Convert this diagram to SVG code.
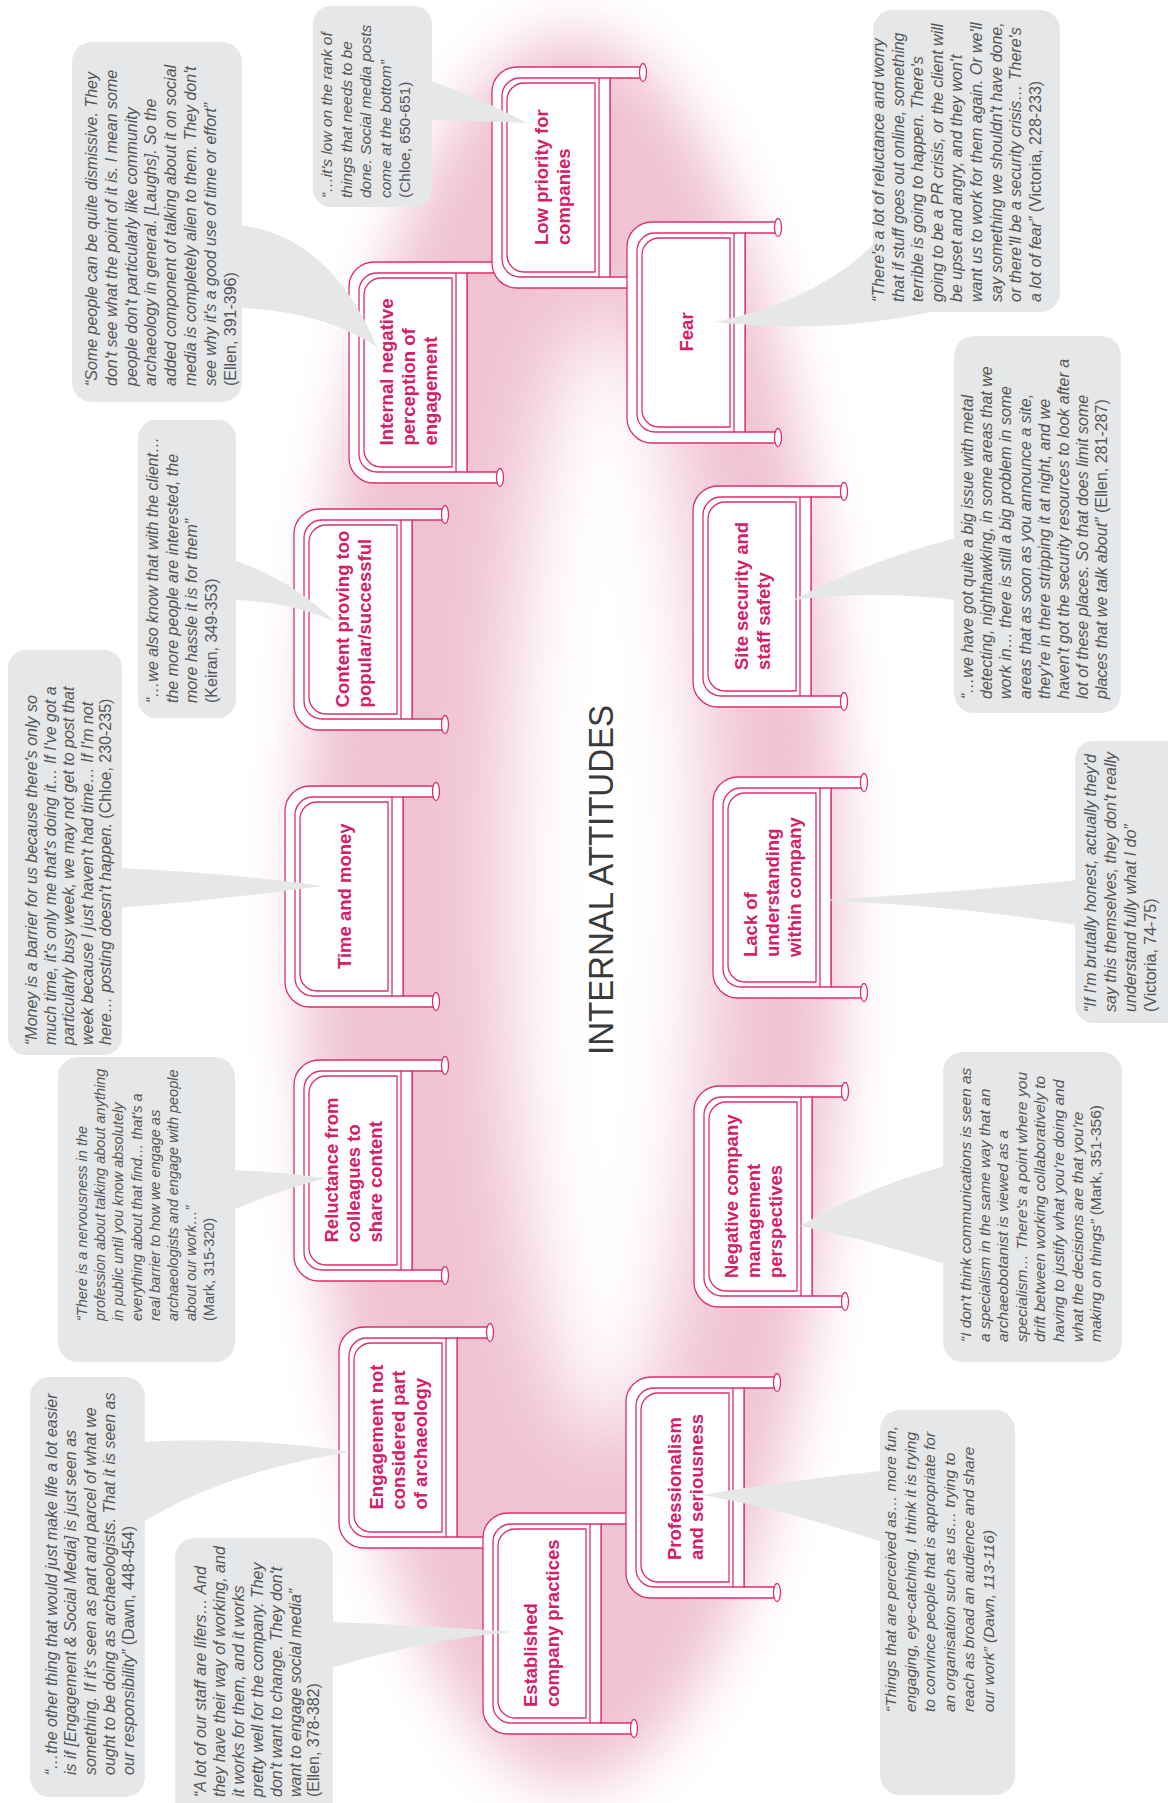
<svg xmlns="http://www.w3.org/2000/svg" xmlns:xlink="http://www.w3.org/1999/xlink" width="1168" height="1803" viewBox="0 0 1168 1803">
  <style>
    .tube { fill: #ffffff; stroke: #dd2e6e; stroke-width: 1.3; stroke-linejoin: round; }
    .line { fill: none; stroke: #dd2e6e; stroke-width: 1.3; }
    .label { font-family: "Liberation Sans", Arial, sans-serif; font-weight: bold; font-size: 18.5px; fill: #d42068; }
    .bubble { fill: #e6e7e8; }
    .q { font-family: "Liberation Sans", Arial, sans-serif; font-style: italic; fill: #555658; }
    .c { font-style: normal; }
    .title { font-family: "Liberation Sans", Arial, sans-serif; font-size: 35px; fill: #3a3a3a; }
  </style>
  <defs>
    <filter id="soft" x="-40%" y="-15%" width="180%" height="130%">
      <feGaussianBlur stdDeviation="28"/>
    </filter>
    <filter id="softer" x="-60%" y="-20%" width="220%" height="140%">
      <feGaussianBlur stdDeviation="38"/>
    </filter>
    <!-- signboard: U-shaped tube, inner rail, bar and board; local origin at outer top-left -->
    <g id="sign">
      <path class="tube" d="M151,0 H25 A25,25 0 0 0 0,25 V196 A25,25 0 0 0 25,221 H151 V210 H118 V11 H151 Z"/>
      <path class="line" d="M107,11 H28 A18,18 0 0 0 10,29 V192 A18,18 0 0 0 28,210 H107"/>
      <rect class="tube" x="107" y="11" width="11" height="199"/>
      <path class="tube" d="M103,16 H32 A17,17 0 0 0 15,33 V188 A17,17 0 0 0 32,205 H103 Z"/>
      <ellipse class="tube" cx="151" cy="5.5" rx="3.5" ry="9"/>
      <ellipse class="tube" cx="151" cy="215.5" rx="3.5" ry="9"/>
    </g>
  </defs>

  <rect width="1168" height="1803" fill="#ffffff"/>

  <!-- soft pink ring behind the signs -->
  <g id="backdrop">
    <ellipse cx="572" cy="910" rx="270" ry="875" fill="#f0c3d4" filter="url(#soft)"/>
    <ellipse cx="606" cy="878" rx="100" ry="560" fill="#ffffff" filter="url(#softer)"/>
  </g>

  <!-- signs -->
  <g id="nodes">
    <g id="node-internal-negative" transform="translate(349,262)">
      <use xlink:href="#sign"/>
      <text class="label" transform="translate(44,183.5) rotate(-90)"><tspan x="0" y="0">Internal negative</tspan><tspan x="0" dy="22">perception of</tspan><tspan x="0" dy="22">engagement</tspan></text>
    </g>
    <g id="node-low-priority" transform="translate(492,67)">
      <use xlink:href="#sign"/>
      <text class="label" transform="translate(56,178) rotate(-90)"><tspan x="0" y="0">Low priority for</tspan><tspan x="0" dy="22">companies</tspan></text>
    </g>
    <g id="node-fear" transform="translate(627,222)">
      <use xlink:href="#sign"/>
      <text class="label" transform="translate(66,129.5) rotate(-90)"><tspan x="0" y="0">Fear</tspan></text>
    </g>
    <g id="node-site-security" transform="translate(693,486)">
      <use xlink:href="#sign"/>
      <text class="label" transform="translate(55,184) rotate(-90)"><tspan x="0" y="0">Site security and</tspan><tspan x="0" dy="22">staff safety</tspan></text>
    </g>
    <g id="node-lack-understanding" transform="translate(713,777)">
      <use xlink:href="#sign"/>
      <text class="label" transform="translate(44,180) rotate(-90)"><tspan x="0" y="0">Lack of</tspan><tspan x="0" dy="22">understanding</tspan><tspan x="0" dy="22">within company</tspan></text>
    </g>
    <g id="node-negative-management" transform="translate(694,1086)">
      <use xlink:href="#sign"/>
      <text class="label" transform="translate(44,192) rotate(-90)"><tspan x="0" y="0">Negative company</tspan><tspan x="0" dy="22">management</tspan><tspan x="0" dy="22">perspectives</tspan></text>
    </g>
    <g id="node-engagement-not-part" transform="translate(339,1327)">
      <use xlink:href="#sign"/>
      <text class="label" transform="translate(44,182.5) rotate(-90)"><tspan x="0" y="0">Engagement not</tspan><tspan x="0" dy="22">considered part</tspan><tspan x="0" dy="22">of archaeology</tspan></text>
    </g>
    <g id="node-established-practices" transform="translate(483,1513)">
      <use xlink:href="#sign"/>
      <text class="label" transform="translate(54,194) rotate(-90)"><tspan x="0" y="0">Established</tspan><tspan x="0" dy="22">company practices</tspan></text>
    </g>
    <g id="node-professionalism" transform="translate(626,1377)">
      <use xlink:href="#sign"/>
      <text class="label" transform="translate(55,183) rotate(-90)"><tspan x="0" y="0">Professionalism</tspan><tspan x="0" dy="22">and seriousness</tspan></text>
    </g>
    <g id="node-reluctance" transform="translate(294,1060)">
      <use xlink:href="#sign"/>
      <text class="label" transform="translate(44,182.5) rotate(-90)"><tspan x="0" y="0">Reluctance from</tspan><tspan x="0" dy="22">colleagues to</tspan><tspan x="0" dy="22">share content</tspan></text>
    </g>
    <g id="node-time-money" transform="translate(285,786)">
      <use xlink:href="#sign"/>
      <text class="label" transform="translate(66,183) rotate(-90)"><tspan x="0" y="0">Time and money</tspan></text>
    </g>
    <g id="node-content-popular" transform="translate(294,509)">
      <use xlink:href="#sign"/>
      <text class="label" transform="translate(55,198.4) rotate(-90)"><tspan x="0" y="0">Content proving too</tspan><tspan x="0" dy="22">popular/successful</tspan></text>
    </g>
  </g>

  <!-- callout pointers from each quote to its sign -->
  <g id="connectors" class="bubble">
    <path d="M428,80 Q480,98 527,123 Q480,121 428,120 Z"/>
    <path d="M238,225 Q330,235 377,347 Q320,310 238,308 Z"/>
    <path d="M234,560 Q292,580 335,622 Q292,602 234,600 Z"/>
    <path d="M118,868 Q220,872 323,886 Q220,900 118,908 Z"/>
    <path d="M233,1170 Q280,1172 326,1178 Q280,1190 233,1210 Z"/>
    <path d="M143,1442 Q250,1436 350,1452 Q230,1470 143,1522 Z"/>
    <path d="M331,1622 Q420,1625 512,1632 Q420,1640 331,1668 Z"/>
    <path d="M890,1470 Q790,1480 702,1495 Q790,1510 890,1545 Z"/>
    <path d="M945,1166 Q860,1190 800,1226 Q870,1240 945,1264 Z"/>
    <path d="M1077,880 Q950,893 820,900 Q950,905 1077,925 Z"/>
    <path d="M956,538 Q870,560 793,600 Q870,590 956,600 Z"/>
    <path d="M878,240 Q820,300 715,322 Q830,335 940,310 Z"/>
  </g>

  <!-- quotes -->
  <g id="quote-chloe-650">
    <rect class="bubble" x="313" y="6" width="119" height="201" rx="18"/>
    <text class="q" font-size="15.5" transform="translate(332,198) rotate(-90)"><tspan x="0" y="0">“…it's low on the rank of</tspan><tspan x="0" dy="19.5">things that needs to be</tspan><tspan x="0" dy="19.5">done. Social media posts</tspan><tspan x="0" dy="19.5">come at the bottom”</tspan><tspan class="c" x="0" dy="19.5">(Chloe, 650-651)</tspan></text>
  </g>
  <g id="quote-ellen-391">
    <rect class="bubble" x="72" y="42" width="170" height="360" rx="20"/>
    <text class="q" font-size="16" transform="translate(97,386) rotate(-90)"><tspan x="0" y="0">“Some people can be quite dismissive.  They</tspan><tspan x="0" dy="19.8">don't see what the point of it is. I mean some</tspan><tspan x="0" dy="19.8">people don't particularly like community</tspan><tspan x="0" dy="19.8">archaeology in general. [Laughs]. So the</tspan><tspan x="0" dy="19.8">added component of talking about it on social</tspan><tspan x="0" dy="19.8">media is completely alien to them.  They don't</tspan><tspan x="0" dy="19.8">see why it's a good use of time or effort”</tspan><tspan class="c" x="0" dy="19.8">(Ellen, 391-396)</tspan></text>
  </g>
  <g id="quote-keiran-349">
    <rect class="bubble" x="138" y="420" width="98" height="298" rx="18"/>
    <text class="q" font-size="16" transform="translate(158,703) rotate(-90)"><tspan x="0" y="0">“…we also know that with the client…</tspan><tspan x="0" dy="19.5">the more people are interested, the</tspan><tspan x="0" dy="19.5">more hassle it is for them”</tspan><tspan class="c" x="0" dy="19.5">(Keiran, 349-353)</tspan></text>
  </g>
  <g id="quote-chloe-230">
    <rect class="bubble" x="8" y="650" width="114" height="405" rx="18"/>
    <text class="q" font-size="16" transform="translate(37,1045) rotate(-90)"><tspan x="0" y="0">“Money is a barrier for us because there's only so</tspan><tspan x="0" dy="18.5">much time, it's only me that's doing it… If I've got a</tspan><tspan x="0" dy="18.5">particularly busy week, we may not get to post that</tspan><tspan x="0" dy="18.5">week because I just haven't had time…  If I'm not</tspan><tspan x="0" dy="18.5">here… posting doesn't happen. <tspan class="c">(Chloe, 230-235)</tspan></tspan></text>
  </g>
  <g id="quote-mark-315">
    <rect class="bubble" x="58" y="1057" width="177" height="305" rx="20"/>
    <text class="q" font-size="14.5" transform="translate(87,1321) rotate(-90)"><tspan x="0" y="0">“There is a nervousness in the</tspan><tspan x="0" dy="18.2">profession about talking about anything</tspan><tspan x="0" dy="18.2">in public until you know absolutely</tspan><tspan x="0" dy="18.2">everything about that find… that's a</tspan><tspan x="0" dy="18.2">real barrier to how we engage as</tspan><tspan x="0" dy="18.2">archaeologists and engage with people</tspan><tspan x="0" dy="18.2">about our work…”</tspan><tspan class="c" x="0" dy="18.2">(Mark, 315-320)</tspan></text>
  </g>
  <g id="quote-dawn-448">
    <rect class="bubble" x="30" y="1377" width="115" height="420" rx="20"/>
    <text class="q" font-size="16" transform="translate(57,1775) rotate(-90)"><tspan x="0" y="0">“…the other thing that would just make life a lot easier</tspan><tspan x="0" dy="19.3">is if [Engagement &amp; Social Media] is just seen as</tspan><tspan x="0" dy="19.3">something. If it's seen as part and parcel of what we</tspan><tspan x="0" dy="19.3">ought to be doing as archaeologists.  That it is seen as</tspan><tspan x="0" dy="19.3">our responsibility” <tspan class="c">(Dawn, 448-454)</tspan></tspan></text>
  </g>
  <g id="quote-ellen-378">
    <rect class="bubble" x="175" y="1538" width="158" height="290" rx="20"/>
    <text class="q" font-size="16" transform="translate(206,1797) rotate(-90)"><tspan x="0" y="0">“A lot of our staff are lifers… And</tspan><tspan x="0" dy="18.9">they have their way of working, and</tspan><tspan x="0" dy="18.9">it works for them, and it works</tspan><tspan x="0" dy="18.9">pretty well for the company. They</tspan><tspan x="0" dy="18.9">don't want to change. They don't</tspan><tspan x="0" dy="18.9">want to engage social media”</tspan><tspan class="c" x="0" dy="18.9">(Ellen, 378-382)</tspan></text>
  </g>
  <g id="quote-dawn-113">
    <rect class="bubble" x="880" y="1410" width="135" height="385" rx="20"/>
    <text class="q" font-size="15.5" transform="translate(896,1712) rotate(-90)"><tspan x="0" y="0">“Things that are perceived as… more fun,</tspan><tspan x="0" dy="19.5">engaging, eye-catching. I think it is trying</tspan><tspan x="0" dy="19.5">to convince people that is appropriate for</tspan><tspan x="0" dy="19.5">an organisation such as us… trying to</tspan><tspan x="0" dy="19.5">reach as broad an audience and share</tspan><tspan x="0" dy="19.5">our work” (Dawn, 113-116)</tspan></text>
  </g>
  <g id="quote-mark-351">
    <rect class="bubble" x="943" y="1052" width="179" height="310" rx="20"/>
    <text class="q" font-size="15.5" transform="translate(971,1342) rotate(-90)"><tspan x="0" y="0">“I don't think communications is seen as</tspan><tspan x="0" dy="18.6">a specialism in the same way that an</tspan><tspan x="0" dy="18.6">archaeobotanist is viewed as a</tspan><tspan x="0" dy="18.6">specialism…  There's a point where you</tspan><tspan x="0" dy="18.6">drift between working collaboratively to</tspan><tspan x="0" dy="18.6">having to justify what you're doing and</tspan><tspan x="0" dy="18.6">what the decisions are that you're</tspan><tspan x="0" dy="18.6">making on things” <tspan class="c">(Mark, 351-356)</tspan></tspan></text>
  </g>
  <g id="quote-victoria-74">
    <rect class="bubble" x="1075" y="741" width="110" height="282" rx="18"/>
    <text class="q" font-size="16" transform="translate(1096,1012) rotate(-90)"><tspan x="0" y="0">“If I'm brutally honest, actually they'd</tspan><tspan x="0" dy="20">say this themselves, they don't really</tspan><tspan x="0" dy="20">understand fully what I do”</tspan><tspan class="c" x="0" dy="20">(Victoria, 74-75)</tspan></text>
  </g>
  <g id="quote-ellen-281">
    <rect class="bubble" x="954" y="336" width="167" height="377" rx="20"/>
    <text class="q" font-size="16" transform="translate(973,699) rotate(-90)"><tspan x="0" y="0">“…we have got quite a big issue with metal</tspan><tspan x="0" dy="19.2">detecting, nighthawking, in some areas that we</tspan><tspan x="0" dy="19.2">work in… there is still a big problem in some</tspan><tspan x="0" dy="19.2">areas that as soon as you announce a site,</tspan><tspan x="0" dy="19.2">they're in there stripping it at night, and we</tspan><tspan x="0" dy="19.2">haven't got the security resources to look after a</tspan><tspan x="0" dy="19.2">lot of these places. So that does limit some</tspan><tspan x="0" dy="19.2">places that we talk about” <tspan class="c">(Ellen, 281-287)</tspan></tspan></text>
  </g>
  <g id="quote-victoria-228">
    <rect class="bubble" x="873" y="10" width="187" height="302" rx="20"/>
    <text class="q" font-size="16" transform="translate(884,302) rotate(-90)"><tspan x="0" y="0">“There's a lot of reluctance and worry</tspan><tspan x="0" dy="19.6">that if stuff goes out online, something</tspan><tspan x="0" dy="19.6">terrible is going to happen.  There's</tspan><tspan x="0" dy="19.6">going to be a PR crisis, or the client will</tspan><tspan x="0" dy="19.6">be upset and angry, and they won't</tspan><tspan x="0" dy="19.6">want us to work for them again. Or we'll</tspan><tspan x="0" dy="19.6">say something we shouldn't have done,</tspan><tspan x="0" dy="19.6">or there'll be a security crisis…  There's</tspan><tspan x="0" dy="19.6">a lot of fear” <tspan class="c">(Victoria, 228-233)</tspan></tspan></text>
  </g>

  <text class="title" transform="translate(613,880) rotate(-90)" x="0" y="0" text-anchor="middle" textLength="350" lengthAdjust="spacingAndGlyphs">INTERNAL  ATTITUDES</text>
</svg>
